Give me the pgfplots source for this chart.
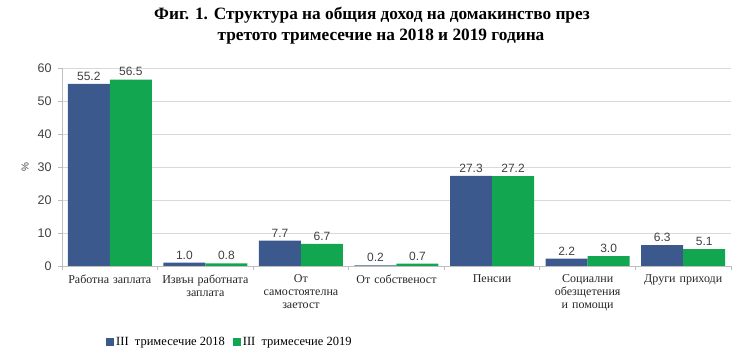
\documentclass[border=0pt]{standalone}
\usepackage{fontspec}
\setmainfont{Liberation Serif}
\setsansfont{Liberation Sans}
\usepackage{pgfplots}
\pgfplotsset{compat=1.18}
\definecolor{cblue}{RGB}{59,89,140}
\definecolor{cgreen}{RGB}{18,166,80}
\definecolor{gridc}{RGB}{217,217,217}
\definecolor{axisc}{RGB}{190,190,190}
\definecolor{txt}{RGB}{64,64,64}
\begin{document}
\begin{tikzpicture}
\path[use as bounding box] (-62pt,-86pt) rectangle (678pt,266pt);
\begin{axis}[
  scale only axis, width=669pt, height=198pt,
  xmin=0, xmax=7, ymin=0, ymax=60,
  ybar=0pt, bar width=42pt,
  axis x line*=bottom, axis y line*=left,
  axis line style={draw=axisc, line width=0.8pt},
  tick align=outside,
  tick style={draw=axisc, line width=0.8pt},
  /pgf/number format/assume math mode=true,
  ytick={0,10,...,60},
  yticklabel style={font=\sffamily\fontsize{12.5}{13}\selectfont, color=txt, xshift=-3pt},
  ymajorgrids, grid style={draw=gridc, line width=0.8pt},
  major tick length=4pt,
  xtick={0,1,...,7}, xticklabels={},
  extra x ticks={0.5,1.5,2.5,3.5,4.5,5.5,6.5},
  extra x tick labels={Работна заплата, Извън работната заплата, От самостоятелна заетост, От собственост, Пенсии, Социални обезщетения и помощи, Други приходи},
  extra x tick style={major tick length=0pt, ticklabel style={font=\fontsize{12}{13}\selectfont, color=black!85, yshift=-5pt, text width=92pt, align=center, anchor=north}},
  ylabel={\%},
  ylabel style={font=\sffamily\fontsize{10}{11}\selectfont, color=txt, at={(axis description cs:-0.055,0.5)}, anchor=center},
  nodes near coords={\pgfmathprintnumber[fixed,fixed zerofill,precision=1]{\pgfplotspointmeta}},
  every node near coord/.append style={font=\sffamily\fontsize{12}{13}\selectfont, color=txt},
  legend style={draw=none, fill=none, font=\fontsize{12.5}{13}\selectfont,
    at={(axis description cs:0.0613,-0.384)}, anchor=west, legend columns=2,
    /tikz/every even column/.append style={column sep=6pt}},
  legend image code/.code={\fill[#1] (0pt,-4pt) rectangle (8pt,4pt);},
]
\addplot[fill=cblue, draw=none] coordinates {(0.5,55.2) (1.5,1.0) (2.5,7.7) (3.5,0.2) (4.5,27.3) (5.5,2.2) (6.5,6.3)};
\addplot[fill=cgreen, draw=none] coordinates {(0.5,56.5) (1.5,0.8) (2.5,6.7) (3.5,0.7) (4.5,27.2) (5.5,3.0) (6.5,5.1)};
\legend{III\ \ тримесечие 2018, III\ \ тримесечие 2019}
\end{axis}
\node[font=\bfseries\fontsize{17.3}{20}\selectfont] at (310pt,251pt) {Фиг. 1. Структура на общия доход на домакинство през};
\node[font=\bfseries\fontsize{17.3}{20}\selectfont] at (319pt,229pt) {третото тримесечие на 2018 и 2019 година};
\end{tikzpicture}
\end{document}
